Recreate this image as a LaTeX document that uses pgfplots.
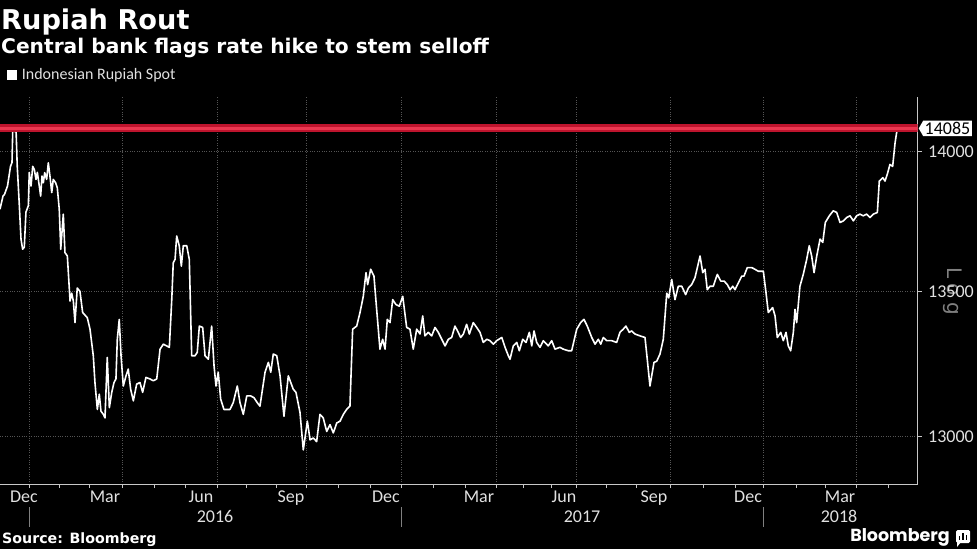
\documentclass[border=0pt]{standalone}
\usepackage{fontspec}
\usepackage{pgfplots}
\pgfplotsset{compat=1.18}
\usetikzlibrary{shapes.symbols}
\setmainfont{Carlito}
\newfontfamily\dvs{DejaVu Sans}
\newfontfamily\logfont[LetterSpace=30]{DejaVu Sans}
\newfontfamily\pop{Poppins}
\definecolor{bandout}{RGB}{190,20,45}
\definecolor{bandin}{RGB}{235,55,80}
\definecolor{gridc}{RGB}{85,85,85}
\definecolor{axc}{RGB}{200,200,200}
\definecolor{txt}{RGB}{225,225,225}
\begin{document}
\begin{tikzpicture}
\fill[black,use as bounding box] (0pt,0pt) rectangle (977pt,549pt);
% Log label (behind the tick labels)
\node[rotate=-90, text=gray, font=\logfont\fontsize{20}{20}\selectfont] at (953pt,258pt) {Log};
\begin{axis}[
  at={(0pt,65pt)}, anchor=south west,
  scale only axis, width=917.7pt, height=387pt,
  xmin=0, xmax=611.8,
  y coord trafo/.code={\pgfmathparse{ln(#1/13000)*10000}},
  ymin=12841, ymax=14200,
  axis x line*=bottom, axis y line*=right,
  axis line style={axc, line width=0.8pt},
  tick align=outside, major tick length=4pt, minor tick length=4pt,
  tick style={axc, line width=0.8pt},
  xtick={19.5,81.8,144.9,204.5,267.8,330.7,384,446.7,508.9,571.1},
  xticklabels={},
  minor xtick={39.5,59.5,102.7,123.3,164.5,184,225.5,246.7,288.9,310,348.9,367.8,404.5,424.5,468.9,490,531.1,550,592.2},
  extra x ticks={16,70,134,194,257.3,319.3,376,436,498.7,560},
  extra x tick labels={Dec,Mar,Jun,Sep,Dec,Mar,Jun,Sep,Dec,Mar},
  extra x tick style={grid=none, major tick length=0pt,
     tick label style={anchor=base, yshift=-18pt, text=txt, font=\fontsize{18}{18}\selectfont}},
  ytick={13000,13500,14000},
  yticklabels={13000,13500,14000},
  yticklabel style={anchor=west, xshift=3pt, text=txt, font=\fontsize{18}{18}\selectfont},
  xmajorgrids, ymajorgrids,
  major grid style={gridc, dotted, line width=0.7pt},
  clip=true,
]
\addplot[white, line width=1.6pt, line join=round] coordinates {
(0,13792)(2,13839)(3,13845)(5,13875)(7,13946)(8,13960)(8.5,14079)(10,14073)(10.7,14079)
(11.5,13946)(12.9,13804)(14,13685)(15.1,13649)(16.2,13656)(17.3,13781)(18.9,13804)
(19.5,13924)(20.7,13875)(21.8,13946)(22.9,13935)(24,13899)(24.9,13924)(26.2,13875)
(27.1,13839)(28,13911)(28.9,13887)(29.8,13923)(31.1,13899)(32.2,13959)(33.3,13911)
(34.5,13851)(35.5,13899)(37.1,13887)(38.2,13869)(39.5,13792)(40.5,13649)(42.2,13774)
(43.3,13637)(44.9,13625)(46.7,13466)(47.8,13494)(48.9,13466)(50,13391)(51.5,13512)
(53.3,13500)(55.1,13426)(58.2,13408)(60,13368)(62.2,13276)(63.3,13184)(64.9,13092)
(66.2,13144)(67.3,13086)(68.9,13075)(70,13063)(71.5,13270)(72.9,13098)(74.5,13150)
(76,13184)(77.3,13196)(78.2,13333)(79.5,13402)(80.7,13276)(82.2,13172)(84,13207)
(85.5,13230)(87.1,13161)(88.9,13121)(91.1,13178)(93.3,13184)(95.1,13150)(97.3,13201)
(100,13196)(102.2,13190)(104.5,13196)(106.7,13299)(108.9,13316)(111.1,13310)(112.9,13305)
(114.5,13471)(115.5,13601)(116.7,13613)(117.8,13696)(119.5,13661)(120.9,13589)(122.2,13661)
(124.5,13661)(126.2,13613)(127.8,13276)(130,13276)(131.5,13288)(132.9,13379)(135.1,13374)
(136.7,13276)(138.9,13264)(141.1,13379)(142.7,13241)(144,13172)(145.5,13219)(147.1,13127)
(149.3,13092)(153.3,13092)(155.5,13115)(158.2,13172)(160,13115)(162.2,13075)(164.5,13138)
(167.1,13138)(169.3,13132)(171.5,13115)(173.3,13103)(176.7,13219)(178.9,13253)(180.5,13219)
(182.2,13282)(184.5,13276)(186.7,13207)(189.3,13069)(192.2,13207)(195.5,13161)(197.3,13150)
(200,13081)(202.2,12955)(204.9,13052)(206.7,12989)(208.9,12995)(211.1,12983)(213.3,13075)
(215.5,13063)(217.8,13017)(220,13040)(222.2,13012)(224.5,13046)(226.7,13052)(228.9,13075)
(231.1,13092)(233.3,13103)(235.1,13368)(237.8,13379)(240,13426)(242.2,13483)(244,13566)
(245.1,13524)(247.1,13578)(249.3,13554)(251.1,13437)(253.3,13299)(255.1,13333)(256.7,13299)
(258.2,13402)(260,13391)(261.8,13471)(264,13454)(266.2,13448)(268.5,13483)(271.1,13374)
(273.3,13368)(275.5,13299)(277.8,13368)(280,13351)(281.8,13414)(283.3,13345)(285.5,13357)
(287.8,13345)(290,13374)(292.2,13357)(294.5,13333)(296.7,13310)(298.9,13333)(301.1,13339)
(303.3,13379)(305.5,13357)(307.1,13339)(308.9,13351)(311.1,13385)(312.9,13351)(315.5,13391)
(317.8,13374)(320,13357)(322.2,13322)(324.5,13333)(326.7,13328)(328.9,13316)(331.1,13328)
(334.5,13339)(336.7,13305)(338.9,13276)(340,13264)(342.2,13310)(344.5,13322)(346.2,13293)
(348.5,13333)(350.7,13322)(352.9,13357)(354.5,13310)(356,13362)(357.8,13322)(360,13305)
(362.2,13328)(365.5,13310)(367.8,13328)(370,13299)(373.3,13305)(375.5,13299)(378.9,13293)
(381.1,13293)(384.5,13368)(387.1,13391)(389.3,13402)(391.5,13379)(394.5,13339)(396.7,13316)
(398.9,13333)(400.5,13316)(402.2,13339)(404.5,13328)(407.8,13328)(411.1,13322)(413.3,13357)
(415.5,13368)(417.3,13379)(419.5,13357)(421.1,13362)(423.3,13351)(426.7,13345)(430,13339)
(431.5,13264)(433.3,13172)(436,13253)(437.8,13257)(440,13282)(442.2,13333)(444.5,13494)
(445.8,13477)(447.8,13542)(450,13471)(452.2,13518)(454.5,13518)(457.1,13489)(458.9,13512)
(461.1,13524)(463.3,13548)(464.9,13584)(466.7,13625)(468.5,13566)(470,13578)(471.5,13506)
(473.3,13518)(475.5,13518)(478.2,13560)(480.5,13536)(482.7,13536)(484.9,13524)(486.7,13506)
(488.5,13518)(490,13506)(492.2,13530)(494.5,13554)(496,13554)(498.2,13584)(501.1,13584)
(503.3,13578)(505.5,13571)(508.9,13571)(510.7,13494)(512.2,13426)(515.1,13443)(516.7,13414)
(518.2,13339)(520.5,13357)(522.2,13328)(524,13357)(525.5,13310)(527.1,13293)(528.9,13357)
(530,13437)(531.1,13391)(533.3,13518)(535.5,13560)(537.8,13613)(539.5,13661)(541.1,13625)
(542.7,13566)(544.5,13625)(546.7,13685)(548.5,13673)(550.2,13744)(552.9,13768)(555.5,13786)
(557.8,13780)(560,13744)(562.2,13750)(564.5,13762)(566.7,13768)(568.9,13750)(571.1,13768)
(573.3,13774)(575.5,13768)(577.8,13774)(580,13762)(582.2,13774)(584.9,13780)(586.2,13893)
(588.5,13905)(590,13893)(591.5,13917)(593.3,13953)(595.1,13946)(596.7,14031)(598.2,14085)
};
\addplot[bandout, line width=8pt] coordinates {(0,14085) (611.8,14085)};
\addplot[bandin, line width=2.5pt] coordinates {(0,14085) (611.8,14085)};
\end{axis}
% right value tag
\node[signal, signal to=west, signal pointer angle=120, fill=white, text=black,
      inner sep=1.5pt, anchor=west, font=\fontsize{18}{18}\selectfont]
      at (918.5pt,420.6pt) {14085};
% year labels and separators
\foreach \xx in {29.3,401.7,763.3} {\draw[line width=0.6pt, gray] (\xx pt,42pt) -- (\xx pt,22pt);}
\node[anchor=base, text=txt, font=\fontsize{18}{18}\selectfont] at (215pt,27pt) {2016};
\node[anchor=base, text=txt, font=\fontsize{18}{18}\selectfont] at (582pt,27pt) {2017};
\node[anchor=base, text=txt, font=\fontsize{18}{18}\selectfont] at (839pt,27pt) {2018};
% titles
\node[anchor=base west, inner sep=0pt, text=white, font=\dvs\bfseries\fontsize{27.2}{29}\selectfont] at (1pt,519pt) {Rupiah Rout};
\node[anchor=base west, inner sep=0pt, text=white, font=\dvs\bfseries\fontsize{20.2}{22}\selectfont] at (1pt,495pt) {Central bank flags rate hike to stem selloff};
% legend
\fill[white] (7pt,469pt) rectangle (17pt,479pt);
\node[anchor=base west, inner sep=0pt, text=txt, font=\fontsize{16}{16}\selectfont] at (21.7pt,469pt) {Indonesian Rupiah Spot};
% footer
\node[anchor=base west, inner sep=0pt, text=white, font=\dvs\bfseries\fontsize{14.2}{15}\selectfont] at (2pt,5.7pt) {Source: Bloomberg};
\node[anchor=base east, inner sep=0pt, text=white, font=\pop\bfseries\fontsize{17.5}{18}\selectfont] at (950pt,8pt) {Bloomberg};
\fill[white, rounded corners=1.5pt] (956pt,6pt) rectangle (970pt,19pt);
\fill[white] (957pt,7pt) -- (957pt,2pt) -- (961pt,7pt) -- cycle;
\fill[black] (959pt,9pt) rectangle (960.3pt,13pt);
\fill[black] (962.3pt,9pt) rectangle (963.6pt,16pt);
\fill[black] (965.6pt,9pt) rectangle (966.9pt,14pt);
\end{tikzpicture}
\end{document}
